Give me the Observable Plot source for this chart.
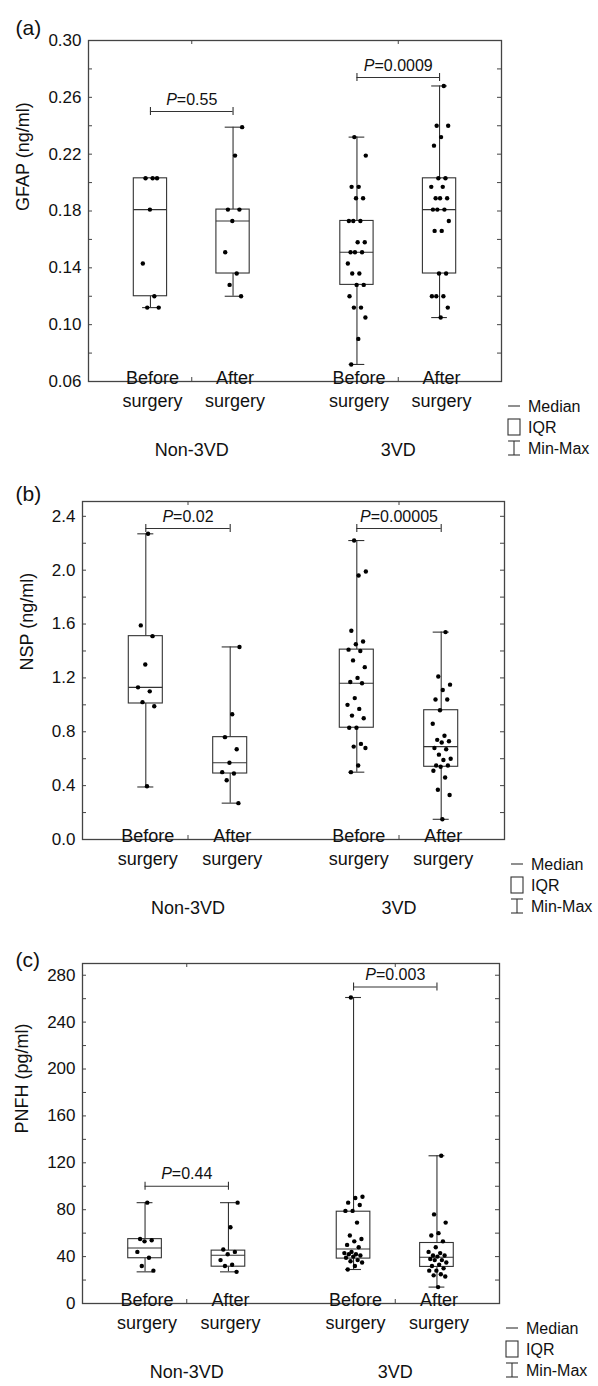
<!DOCTYPE html>
<html><head><meta charset="utf-8">
<script src="https://cdn.jsdelivr.net/npm/d3@7"></script>
<script src="https://cdn.jsdelivr.net/npm/@observablehq/plot@0.6"></script>
<style>
body{margin:0;background:#fff;font-family:"Liberation Sans",Arial,Helvetica,sans-serif;}
#chart{width:598px;}
#chart svg{display:block;}
</style></head><body><div id="chart"></div>
<script>
// ---------- categories / labels ----------
const groups = ["Non-3VD", "3VD"];
const phases = ["Before\nsurgery", "After\nsurgery"];
const legendItems = ["Median", "IQR", "Min-Max"];

// ---------- (a) GFAP (ng/ml) ----------
const gfapNonBefore = [0.203, 0.203, 0.203, 0.181, 0.143, 0.120, 0.112, 0.112];
const gfapNonAfter  = [0.239, 0.219, 0.181, 0.181, 0.173, 0.151, 0.136, 0.128, 0.120];
const gfap3Before   = [0.232, 0.219, 0.197, 0.197, 0.189, 0.189, 0.173, 0.173, 0.173, 0.158, 0.158, 0.151, 0.151, 0.151, 0.143, 0.136, 0.136, 0.128, 0.128, 0.120, 0.112, 0.112, 0.105, 0.090, 0.072];
const gfap3After    = [0.268, 0.240, 0.240, 0.232, 0.226, 0.203, 0.203, 0.197, 0.197, 0.189, 0.189, 0.189, 0.181, 0.181, 0.181, 0.173, 0.166, 0.166, 0.136, 0.136, 0.120, 0.120, 0.120, 0.112, 0.105];
const gfapMin    = [0.112, 0.120, 0.072, 0.105];
const gfapQ1     = [0.120, 0.136, 0.128, 0.136];
const gfapMedian = [0.181, 0.173, 0.151, 0.181];
const gfapQ3     = [0.203, 0.181, 0.173, 0.203];
const gfapMax    = [0.203, 0.239, 0.232, 0.268];
const gfapP      = ["0.55", "0.0009"];
const gfapBracket = [0.250, 0.274];
const gfapTicks  = [0.06, 0.10, 0.14, 0.18, 0.22, 0.26, 0.30];
const gfapMinor  = [0.08, 0.12, 0.16, 0.20, 0.24, 0.28];

// ---------- (b) NSP (ng/ml) ----------
const nspNonBefore = [2.27, 1.59, 1.51, 1.30, 1.13, 1.10, 1.02, 0.99, 0.395];
const nspNonAfter  = [1.43, 0.93, 0.76, 0.67, 0.57, 0.50, 0.49, 0.44, 0.27];
const nsp3Before   = [2.22, 1.99, 1.96, 1.55, 1.47, 1.45, 1.41, 1.40, 1.33, 1.28, 1.20, 1.17, 1.16, 1.05, 1.00, 0.97, 0.92, 0.90, 0.83, 0.83, 0.71, 0.69, 0.68, 0.55, 0.50];
const nsp3After    = [1.54, 1.21, 1.15, 1.11, 1.04, 1.04, 0.96, 0.86, 0.77, 0.74, 0.73, 0.72, 0.68, 0.67, 0.63, 0.60, 0.59, 0.55, 0.55, 0.54, 0.51, 0.46, 0.37, 0.33, 0.15];
const nspMin    = [0.39, 0.27, 0.50, 0.15];
const nspQ1     = [1.01, 0.49, 0.83, 0.54];
const nspMedian = [1.13, 0.57, 1.16, 0.69];
const nspQ3     = [1.51, 0.76, 1.41, 0.96];
const nspMax    = [2.27, 1.43, 2.22, 1.54];
const nspP      = ["0.02", "0.00005"];
const nspBracket = [2.31, 2.31];
const nspTicks  = [0.0, 0.4, 0.8, 1.2, 1.6, 2.0, 2.4];
const nspMinor  = [0.2, 0.6, 1.0, 1.4, 1.8, 2.2];

// ---------- (c) PNFH (pg/ml) ----------
const pnfhNonBefore = [86, 55, 54, 53, 44, 39, 32, 28];
const pnfhNonAfter  = [86, 65, 46, 44, 42, 37, 33, 32, 27];
const pnfh3Before   = [261, 91, 90, 86, 84, 79, 79, 69, 58, 55, 53, 50, 48, 44, 43, 42, 42, 41, 40, 39, 37, 36, 35, 32, 29];
const pnfh3After    = [126, 76, 69, 60, 58, 53, 48, 44, 43, 41, 41, 40, 38, 37, 37, 35, 33, 32, 30, 28, 28, 25, 24, 23, 14];
const pnfhMin    = [27, 27, 29, 14];
const pnfhQ1     = [38.6, 31.4, 38.3, 31.2];
const pnfhMedian = [47.4, 41.1, 46.5, 39.4];
const pnfhQ3     = [54.9, 45.1, 78.3, 51.6];
const pnfhMax    = [86, 86, 261, 126];
const pnfhP      = ["0.44", "0.003"];
const pnfhBracket = [100, 270];
const pnfhTicks  = [0, 40, 80, 120, 160, 200, 240, 280];
const pnfhMinor  = [20, 60, 100, 140, 180, 220, 260];

// ---------- drawing ----------
const FONT = "'Liberation Sans', Arial, Helvetica, sans-serif";
const INK = "#333";
const BOX_HALF = 0.0806, CAP_HALF = 0.038;
const pos = s => Math.floor(s / 2) + (s % 2 === 0 ? -0.2 : 0.2);
function jit(i, s) { const f = ((i + 1) * 0.6180339887 + s * 0.37) % 1; return (f - 0.5) * 0.09; }

function panel(cfg) {
  const {letter, label, series, mn, q1, md, q3, mx, pv, brk, major, minor, fmt, domain,
         h, mt, mb, ml, mr, labelX} = cfg;
  const points = series.flatMap((vals, s) => vals.map((v, i) => ({v, x: pos(s) + jit(i, s)})));
  const stats = d3.range(4).map(s => ({x: pos(s), min: mn[s], q1: q1[s], med: md[s], q3: q3[s], max: mx[s]}));
  const brackets = groups.map((g, k) => ({x1: pos(2 * k), x2: pos(2 * k + 1), xm: (pos(2 * k) + pos(2 * k + 1)) / 2, y: brk[k], p: pv[k]}));
  const cats = d3.range(4).map(s => ({x: pos(s), t: phases[s % 2]}));
  const allTicks = major.concat(minor);
  const svg = Plot.plot({
    width: 598, height: h, marginTop: mt, marginBottom: mb, marginLeft: ml, marginRight: mr,
    x: {domain: [-0.5, 1.5], axis: null},
    y: {domain, axis: null},
    style: {fontFamily: FONT, background: "white", color: "#111", overflow: "visible"},
    marks: [
      Plot.frame({stroke: "#444", strokeWidth: 1.3}),
      // y ticks (inward, both sides)
      Plot.ruleY(allTicks, {y: d => d, x1: () => -0.5, x2: () => -0.5, insetRight: -4, stroke: "#444"}),
      Plot.ruleY(allTicks, {y: d => d, x1: () => 1.5, x2: () => 1.5, insetLeft: -4, stroke: "#444"}),
      // x group ticks (inward, top and bottom)
      Plot.ruleX([0, 1], {x: d => d, y1: () => domain[0], y2: () => domain[0], insetTop: -4, stroke: "#444"}),
      Plot.ruleX([0, 1], {x: d => d, y1: () => domain[1], y2: () => domain[1], insetBottom: -4, stroke: "#444"}),
      // tick labels
      Plot.text(major, {y: d => d, frameAnchor: "left", dx: -7, textAnchor: "end", text: fmt, fontSize: 17, fill: "#111"}),
      // y label
      Plot.text([label], {frameAnchor: "left", dx: labelX - ml, rotate: -90, text: d => d, fontSize: 18, fill: "#111"}),
      // panel letter
      Plot.text([letter], {frameAnchor: "top-left", dx: 15 - ml, dy: 20 - mt, textAnchor: "start", text: d => d, fontSize: 21, fill: "#111"}),
      // whiskers
      Plot.ruleX(stats, {x: "x", y1: "min", y2: "q1", stroke: INK, strokeWidth: 1.1}),
      Plot.ruleX(stats, {x: "x", y1: "q3", y2: "max", stroke: INK, strokeWidth: 1.1}),
      Plot.ruleY(stats, {y: "min", x1: d => d.x - CAP_HALF, x2: d => d.x + CAP_HALF, stroke: INK, strokeWidth: 1.1}),
      Plot.ruleY(stats, {y: "max", x1: d => d.x - CAP_HALF, x2: d => d.x + CAP_HALF, stroke: INK, strokeWidth: 1.1}),
      // boxes
      Plot.rect(stats, {x1: d => d.x - BOX_HALF, x2: d => d.x + BOX_HALF, y1: "q1", y2: "q3", fill: "white", stroke: INK, strokeWidth: 1.1}),
      Plot.ruleY(stats, {y: "med", x1: d => d.x - BOX_HALF, x2: d => d.x + BOX_HALF, stroke: INK, strokeWidth: 1.1}),
      // points
      Plot.dot(points, {x: "x", y: "v", r: 2.2, fill: "#000", stroke: "none"}),
      // brackets
      Plot.ruleY(brackets, {y: "y", x1: "x1", x2: "x2", stroke: INK, strokeWidth: 1.1}),
      Plot.ruleX(brackets, {x: "x1", y1: "y", y2: "y", insetTop: -4, insetBottom: -4, stroke: INK, strokeWidth: 1.1}),
      Plot.ruleX(brackets, {x: "x2", y1: "y", y2: "y", insetTop: -4, insetBottom: -4, stroke: INK, strokeWidth: 1.1}),
      Plot.text(brackets, {x: "xm", y: "y", dy: -12, text: d => "P=" + d.p, fontSize: 16, fill: "#111"}),
      // category labels
      Plot.text(cats, {x: "x", frameAnchor: "bottom", dy: 25.5, dx: 2, text: "t", lineHeight: 1.28, fontSize: 18, fill: "#111"}),
      Plot.text(groups, {x: (d, i) => i, frameAnchor: "bottom", dy: 74, text: d => d, fontSize: 18, fill: "#111"})
    ]
  });
  // italic P in p-value labels
  d3.select(svg).selectAll("text").each(function () {
    const t = this.textContent;
    if (/^P=/.test(t) && this.children.length === 0) {
      this.textContent = "";
      d3.select(this).append("tspan").attr("font-style", "italic").text("P");
      d3.select(this).append("tspan").text(t.slice(1));
    }
  });
  // legend
  const R = 598 - mr, B = h - mb;
  const lg = d3.select(svg).append("g").attr("text-anchor", "start");
  const sym = lg.append("g").attr("stroke", INK).attr("fill", "none").attr("stroke-width", 1.1);
  sym.append("line").attr("x1", R + 7).attr("x2", R + 19).attr("y1", B + 25).attr("y2", B + 25);
  sym.append("rect").attr("x", R + 7).attr("y", B + 38).attr("width", 12).attr("height", 16);
  sym.append("line").attr("x1", R + 13).attr("x2", R + 13).attr("y1", B + 60).attr("y2", B + 74);
  sym.append("line").attr("x1", R + 7).attr("x2", R + 19).attr("y1", B + 60).attr("y2", B + 60);
  sym.append("line").attr("x1", R + 7).attr("x2", R + 19).attr("y1", B + 74).attr("y2", B + 74);
  lg.selectAll("text.lg").data(legendItems).join("text")
    .attr("x", R + 27).attr("y", (d, i) => B + 25 + i * 21)
    .attr("text-anchor", "start")
    .attr("dy", "0.35em").attr("font-size", 16).attr("font-family", FONT).attr("fill", "#111")
    .text(d => d);
  return svg;
}

const chart = document.getElementById("chart");
chart.append(panel({
  letter: "(a)", label: "GFAP (ng/ml)",
  series: [gfapNonBefore, gfapNonAfter, gfap3Before, gfap3After],
  mn: gfapMin, q1: gfapQ1, md: gfapMedian, q3: gfapQ3, mx: gfapMax, pv: gfapP, brk: gfapBracket,
  major: gfapTicks, minor: gfapMinor, fmt: d3.format(".2f"), domain: [0.06, 0.30],
  h: 466, mt: 40, mb: 85, ml: 88, mr: 97, labelX: 23
}));
chart.append(panel({
  letter: "(b)", label: "NSP (ng/ml)",
  series: [nspNonBefore, nspNonAfter, nsp3Before, nsp3After],
  mn: nspMin, q1: nspQ1, md: nspMedian, q3: nspQ3, mx: nspMax, pv: nspP, brk: nspBracket,
  major: nspTicks, minor: nspMinor, fmt: d3.format(".1f"), domain: [0, 2.51],
  h: 466, mt: 35, mb: 93, ml: 82, mr: 94, labelX: 27
}));
chart.append(panel({
  letter: "(c)", label: "PNFH (pg/ml)",
  series: [pnfhNonBefore, pnfhNonAfter, pnfh3Before, pnfh3After],
  mn: pnfhMin, q1: pnfhQ1, md: pnfhMedian, q3: pnfhQ3, mx: pnfhMax, pv: pnfhP, brk: pnfhBracket,
  major: pnfhTicks, minor: pnfhMinor, fmt: d3.format("d"), domain: [0, 290],
  h: 454, mt: 31, mb: 83, ml: 82, mr: 99, labelX: 22
}));
</script></body></html>
